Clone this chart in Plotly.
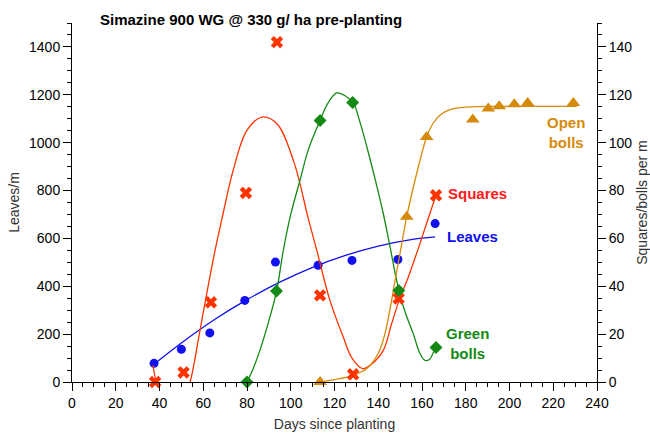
import plotly.graph_objects as go

# ---------------- data ----------------
# Leaves (left axis, leaves/m)
leaves_x = [37.5, 50, 63, 79, 93, 112.5, 128, 149, 166]
leaves_y = [78, 137, 205, 341, 501, 488, 508, 512, 662]
# fitted leaves curve
leaves_fit_x = [38, 50, 65, 80, 95, 110, 125, 140, 155, 166]
leaves_fit_y = [78, 163, 260, 344, 417, 479, 529, 568, 595, 606]

# Squares (right axis, per m)
squares_x = [38, 51, 63.5, 79.5, 93.7, 113.4, 128.5, 149.3, 166.4]
squares_y = [0, 4, 33.3, 79, 142, 36.2, 3.2, 34.9, 78]
squares_fit_x = [37, 38.5, 42, 46, 50, 54, 58, 61, 65.4, 68.4, 73.7, 79.9, 86.8,
                 93.6, 101.2, 108.2, 111.9, 117.9, 124, 128, 132.9, 137, 142.3,
                 146, 149.5, 153.8, 158, 162, 166.4]
squares_fit_y = [7, 0, -10, -14, -10, 0, 19, 34, 55, 67.6, 88.5, 105, 110.7,
                 108, 92.6, 67.6, 55, 34.1, 18.8, 10, 5.6, 7.5, 13.2,
                 24, 34, 44, 55, 66, 78]

# Green bolls (right axis)
green_x = [80, 93.5, 113.4, 128.3, 149.4, 166.4]
green_y = [0, 38, 109.3, 116.8, 38.2, 14.4]
green_fit_x = [80, 83, 85.9, 90.5, 93.6, 96.6, 100, 104.2, 108, 113.4, 117, 121,
               125, 128.6, 131.5, 134.8, 138.5, 142.3, 145.5, 148.4, 152, 156,
               159, 161.4, 163.5, 165, 166.4]
green_fit_y = [0, 6, 13.2, 27.2, 38.3, 55, 70, 84.2, 97, 109.3, 116.5, 120.8,
               119.5, 116.6, 109, 98.2, 85, 70.4, 56, 42.5, 30, 20.2,
               12, 9, 9.5, 12, 14.4]

# Open bolls (right axis)
open_x = [113.4, 153, 162.1, 183.2, 190.3, 195.3, 202.2, 208.3, 229.2]
open_y = [0, 69, 102.4, 109.7, 114.3, 115.2, 116, 116.6, 116.6]
open_fit_x = [113.4, 120, 128.6, 134.8, 140, 143, 145.5, 147.7, 150, 153, 156.8,
              159.5, 162.1, 165, 168.2, 172, 177.4, 185, 195, 210, 230.7]
open_fit_y = [0, 1, 2.8, 5.6, 12, 20, 31, 42.5, 54, 69, 84.3,
              94, 102.4, 108, 111.5, 113.5, 114.6, 115.1, 115.2, 115.2, 115.2]

# ---------------- styling ----------------
BLUE = "#1010f0"
RED = "#ff3300"
RED_TXT = "#ff1a1a"
GREEN = "#148a14"
ORANGE = "#d68a0a"
FONT = "Liberation Sans, Arial, sans-serif"

fig = go.Figure()

# curves
fig.add_trace(go.Scatter(x=leaves_fit_x, y=leaves_fit_y, mode="lines",
                         line=dict(color=BLUE, width=1.3, shape="spline"),
                         showlegend=False, hoverinfo="skip"))
fig.add_trace(go.Scatter(x=squares_fit_x, y=squares_fit_y, mode="lines", yaxis="y2",
                         line=dict(color=RED, width=1.3, shape="spline"),
                         showlegend=False, hoverinfo="skip"))
fig.add_trace(go.Scatter(x=green_fit_x, y=green_fit_y, mode="lines", yaxis="y2",
                         line=dict(color=GREEN, width=1.3, shape="spline"),
                         showlegend=False, hoverinfo="skip"))
fig.add_trace(go.Scatter(x=open_fit_x, y=open_fit_y, mode="lines", yaxis="y2",
                         line=dict(color=ORANGE, width=1.3, shape="spline"),
                         showlegend=False, hoverinfo="skip"))

# markers
fig.add_trace(go.Scatter(x=leaves_x, y=leaves_y, mode="markers", name="Leaves",
                         marker=dict(symbol="circle", size=9, color=BLUE),
                         cliponaxis=False, showlegend=False))
fig.add_trace(go.Scatter(x=squares_x, y=squares_y, mode="markers", yaxis="y2",
                         name="Squares",
                         marker=dict(symbol="x", size=11, color=RED),
                         cliponaxis=False, showlegend=False))
fig.add_trace(go.Scatter(x=green_x, y=green_y, mode="markers", yaxis="y2",
                         name="Green bolls",
                         marker=dict(symbol="diamond", size=10, color=GREEN),
                         cliponaxis=False, showlegend=False))
fig.add_trace(go.Scatter(x=open_x, y=open_y, mode="markers", yaxis="y2",
                         name="Open bolls",
                         marker=dict(symbol="triangle-up", size=12, color=ORANGE),
                         cliponaxis=False, showlegend=False))

axis_common = dict(showline=True, linecolor="black", linewidth=1, ticks="outside",
                   ticklen=8, tickcolor="black", showgrid=False, zeroline=False,
                   automargin=False,
                   tickfont=dict(family=FONT, size=14, color="black"))

fig.update_layout(
    width=650, height=433,
    margin=dict(l=72, r=53, t=23, b=51),
    paper_bgcolor="white", plot_bgcolor="white",
    font=dict(family=FONT),
    title=dict(text="<b>Simazine 900 WG @ 330 g/ ha pre-planting</b>",
               font=dict(family=FONT, size=15, color="black"),
               xref="container", yref="container", x=100 / 650, xanchor="left",
               y=1 - 20 / 433, yanchor="middle"),
    xaxis=dict(range=[0, 240], dtick=20, tick0=0,
               minor=dict(dtick=5, ticklen=4, ticks="outside", tickcolor="black"),
               title=dict(text="Days since planting", standoff=9,
                          font=dict(family=FONT, size=14, color="#333333")),
               **axis_common),
    yaxis=dict(range=[0, 1500], dtick=200, tick0=0,
               minor=dict(dtick=50, ticklen=4, ticks="outside", tickcolor="black"),
               title=dict(text="Leaves/m", standoff=6,
                          font=dict(family=FONT, size=14, color="#333333")),
               **axis_common),
    yaxis2=dict(range=[0, 150], dtick=20, tick0=0, overlaying="y", side="right",
                minor=dict(dtick=5, ticklen=4, ticks="outside", tickcolor="black"),
                title=dict(text="Squares/bolls per m", standoff=6,
                           font=dict(family=FONT, size=14, color="#333333")),
                **axis_common),
)

# series labels
labels = [
    ("Open<br>bolls", 565.5, 132.5, ORANGE),
    ("Squares", 477, 193, RED_TXT),
    ("Leaves", 472.5, 236, BLUE),
    ("Green<br>bolls", 467.5, 343, GREEN),
]
for text, px, py, col in labels:
    fig.add_annotation(text=f"<b>{text}</b>", xref="paper", yref="paper",
                       x=(px - 72) / 525, y=(381.7 - py) / 359,
                       xanchor="center", yanchor="middle", showarrow=False,
                       align="center",
                       font=dict(family=FONT, size=15, color=col))

fig.write_html("out.html", config={"displayModeBar": False},
               post_script="document.body.style.margin='0px';"
                           "document.body.style.overflow='hidden';")
